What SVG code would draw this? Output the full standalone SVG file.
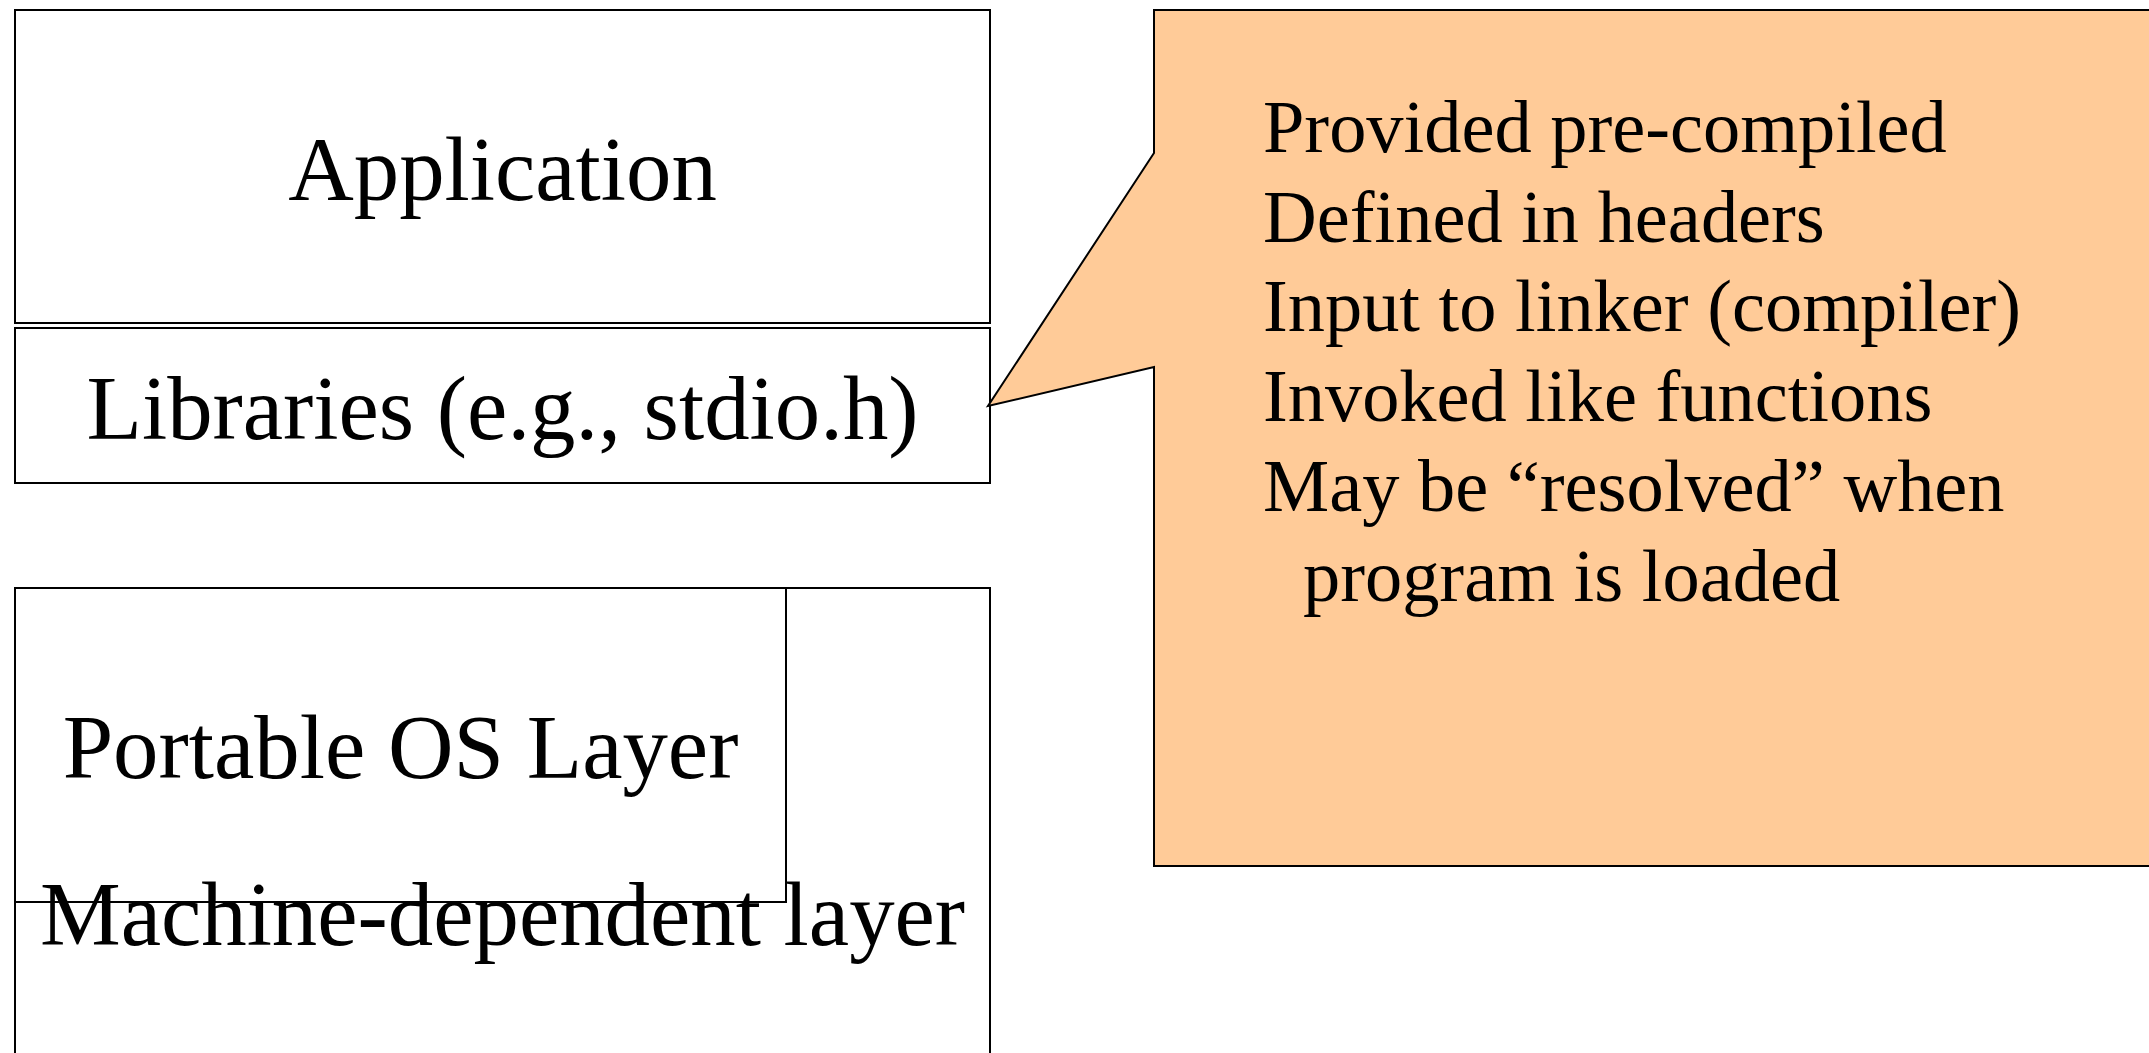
<svg xmlns="http://www.w3.org/2000/svg" width="2149" height="1053" viewBox="0 0 2149 1053">
<style>
.box{fill:#FFFFFF;stroke:#000000;stroke-width:2}
.open{fill:none;stroke:#000000;stroke-width:2}
.lbl{font-family:"Liberation Serif","Times New Roman",serif;font-size:90.8px;fill:#000000;text-anchor:middle}
.note{font-family:"Liberation Serif","Times New Roman",serif;font-size:74.4px;fill:#000000}
.callout{fill:#FFCB98;stroke:#000000;stroke-width:2;stroke-linejoin:miter}
</style>
<rect width="2149" height="1053" fill="#FFFFFF"/>
<g id="application">
<rect class="box" x="15" y="10" width="975" height="313"/>
<text class="lbl" x="502.5" y="200">Application</text>
</g>
<g id="libraries">
<rect class="box" x="15" y="328" width="975" height="155"/>
<text class="lbl" x="502.5" y="439">Libraries (e.g., stdio.h)</text>
</g>
<g id="machine-dependent">
<rect class="box" x="15" y="588" width="975" height="480"/>
</g>
<g id="portable-os">
<rect class="open" x="15" y="588" width="771" height="314"/>
<text class="lbl" x="400.5" y="778">Portable OS Layer</text>
</g>
<g id="machine-dependent-label">
<text class="lbl" x="502.5" y="945">Machine-dependent layer</text>
</g>
<g id="connectors">
<g id="callout">
<path class="callout" d="M1154,10 L2160,10 L2160,866 L1154,866 L1154,367 L988,406 L1154,153 Z"/>
<text class="note" x="1263" y="152">Provided pre-compiled</text>
<text class="note" x="1263" y="242">Defined in headers</text>
<text class="note" x="1263" y="331">Input to linker (compiler)</text>
<text class="note" x="1263" y="421">Invoked like functions</text>
<text class="note" x="1263" y="511">May be “resolved” when</text>
<text class="note" x="1303" y="601">program is loaded</text>
</g>
</g>
</svg>
